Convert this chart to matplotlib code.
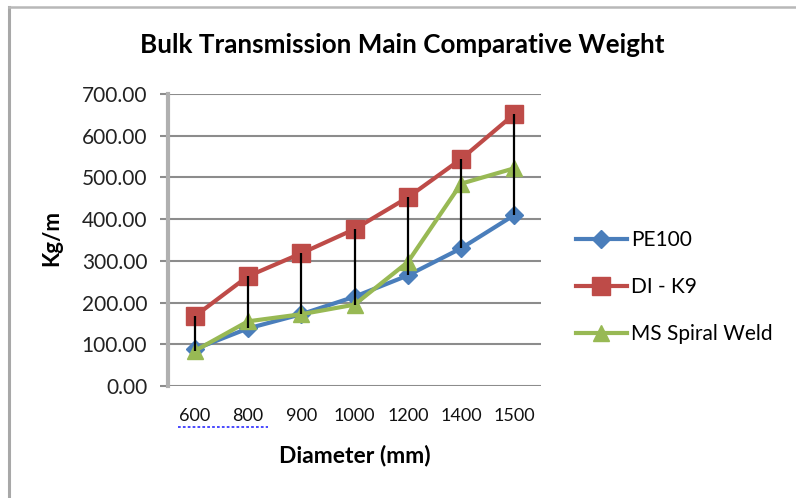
import numpy as np
import matplotlib
matplotlib.use("Agg")
import matplotlib.pyplot as plt
from matplotlib.lines import Line2D

# Pipe diameters (mm) and weight per metre (kg/m) for each material
diameters = ["600", "800", "900", "1000", "1200", "1400", "1500"]
pe100 = [88, 138, 172, 214, 265, 330, 410]
di_k9 = [167, 263, 318, 376, 452, 544, 652]
ms_spiral = [84, 155, 172, 195, 297, 485, 522]
series_names = ["PE100", "DI - K9", "MS Spiral Weld"]
y_ticks = [0, 100, 200, 300, 400, 500, 600, 700]

FONT = "Lato"
plt.rcParams["font.family"] = [FONT, "DejaVu Sans"]

W, H = 796, 498
fig = plt.figure(figsize=(W / 100, H / 100), dpi=100)
fig.patch.set_facecolor("white")

# chart frame (top and left edges)
fig.add_artist(Line2D([9 / W, 9 / W], [0, 1 - 7 / H], transform=fig.transFigure,
                      color="#a8a8a8", lw=2.2))
fig.add_artist(Line2D([9 / W, 1], [1 - 7 / H, 1 - 7 / H], transform=fig.transFigure,
                      color="#b8b8b8", lw=1.8))

ax = fig.add_axes([168 / W, 1 - 386 / H, (541 - 168) / W, (386 - 94) / H])
x = np.arange(len(diameters))

blue, red, green = "#4a7ebb", "#be4b48", "#98b954"

ax.set_ylim(0, 700)
ax.set_xlim(-0.5, len(diameters) - 0.5)
ax.set_yticks(y_ticks)
ax.set_yticklabels([f"{v:.2f}" for v in y_ticks], fontsize=15, color="#222222")
ax.set_xticks(x)
ax.set_xticklabels(diameters, fontsize=13, color="#111111")
ax.tick_params(axis="y", length=6, width=1.5, color="#8c8c8c", pad=9)
ax.tick_params(axis="x", length=0, pad=16)
ax.grid(axis="y", color="#8c8c8c", lw=1.5)
ax.set_axisbelow(True)
for s in ["top", "right", "bottom"]:
    ax.spines[s].set_visible(False)
ax.spines["left"].set_color("#b0b0b0")
ax.spines["left"].set_linewidth(3)

ax.plot(x, pe100, color=blue, lw=3, marker="D", ms=9, zorder=3, label=series_names[0])
ax.plot(x, di_k9, color=red, lw=3, marker="s", ms=13, zorder=3, label=series_names[1])
ax.plot(x, ms_spiral, color=green, lw=3, marker="^", ms=12, zorder=3, label=series_names[2])

# high-low lines between the extreme series at every diameter
all_vals = np.vstack([pe100, di_k9, ms_spiral])
ax.vlines(x, all_vals.min(axis=0), all_vals.max(axis=0), color="black", lw=1.6, zorder=4)

fig.text(402 / W, 1 - 45 / H, "Bulk Transmission Main Comparative Weight",
         ha="center", va="center", fontsize=18.7, fontweight="bold")
fig.text(355 / W, 1 - 456 / H, "Diameter (mm)", ha="center", va="center",
         fontsize=16.5, fontweight="bold")
fig.text(52 / W, 1 - 238 / H, "Kg/m", ha="center", va="center", rotation=90,
         fontsize=16, fontweight="bold")

# spell-check underline beneath the first two labels
fig.add_artist(Line2D([178 / W, 268 / W], [1 - 427 / H, 1 - 427 / H], transform=fig.transFigure,
                      color="#3a3aff", lw=1.3, ls=(0, (1.5, 1.2))))

leg = fig.legend(loc="center left", bbox_to_anchor=(557 / W, 1 - 287 / H), frameon=False,
                 fontsize=15, handlelength=2.45, labelspacing=1.3, handletextpad=0.2)

fig.savefig("out.png", dpi=100)
